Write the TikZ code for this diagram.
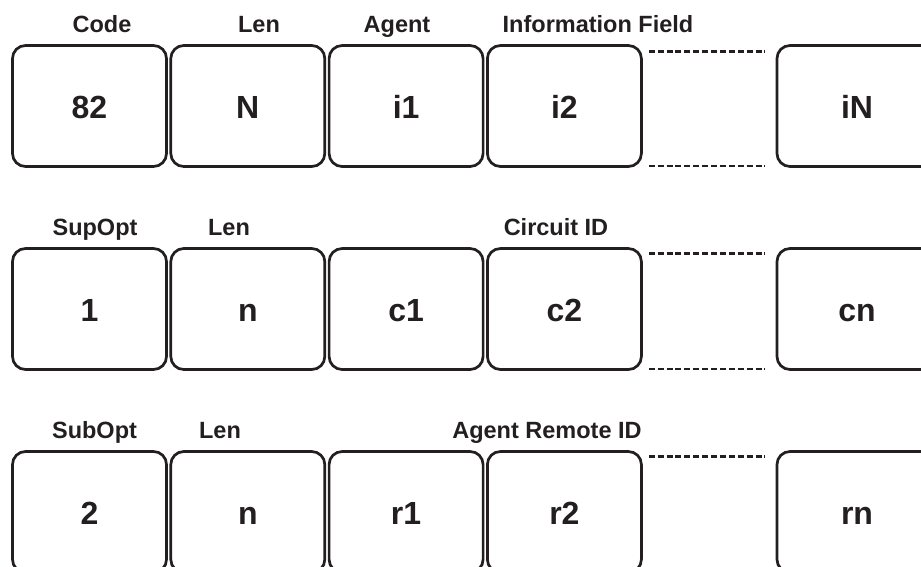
\documentclass[tikz,border=0pt]{standalone}
\usepackage{fontspec}
\setmainfont{Liberation Sans}
\usepackage{xcolor}
\usepackage{tikz}
\usetikzlibrary{positioning}
\definecolor{inkcolor}{HTML}{231F20}

\begin{document}
\begin{tikzpicture}[x=1pt, y=-1pt,
    field/.style={rectangle, draw=inkcolor, line width=2.7pt,
                  rounded corners=13pt,
                  minimum width=154pt, minimum height=121pt,
                  inner sep=0pt, text height=24pt, text depth=0pt,
                  text=inkcolor,
                  font=\fontsize{32}{38}\selectfont\bfseries},
    lastfield/.style={field, minimum width=160pt},
    fieldname/.style={anchor=base, inner sep=0pt, text=inkcolor,
                      font=\fontsize{23.5}{28}\selectfont\bfseries},
    gapline/.style={draw=inkcolor, line width=2.7pt,
                    dash pattern=on 6pt off 2.9pt}
]
\useasboundingbox (0,0) rectangle (921,566);
\clip (0,0) rectangle (921,566);

% Option 82
\node[field] (code) at (89.5,106) {82};
\node[field, right=1.6pt of code] (len) {N};
\node[field, right=1.6pt of len] (agent) {i1};
\node[field, right=1.6pt of agent] (info) {i2};
\node[lastfield] (infoN) at (857,106) {iN};
\node[fieldname] (codelbl) at (102,32) {Code};
\node[fieldname] (lenlbl) at (259,32) {Len};
\node[fieldname] (agentlbl) at (397,32) {Agent};
\node[fieldname] (infolbl) at (598,32) {Information Field};
\draw[gapline] ([xshift=6pt,yshift=-7pt]info.north east) -- ([xshift=-11pt,yshift=-7pt]infoN.north west);
\draw[gapline] ([xshift=6pt,yshift=2pt]info.south east) -- ([xshift=-11pt,yshift=2pt]infoN.south west);

% Circuit ID sub-option
\node[field] (supopt) at (89.5,309) {1};
\node[field, right=1.6pt of supopt] (suplen) {n};
\node[field, right=1.6pt of suplen] (circ) {c1};
\node[field, right=1.6pt of circ] (circb) {c2};
\node[lastfield] (circN) at (857,309) {cn};
\node[fieldname] (supoptlbl) at (95,235) {SupOpt};
\node[fieldname] (suplenlbl) at (229,235) {Len};
\node[fieldname] (circlbl) at (556,235) {Circuit ID};
\draw[gapline] ([xshift=6pt,yshift=-6pt]circb.north east) -- ([xshift=-11pt,yshift=-6pt]circN.north west);
\draw[gapline] ([xshift=6pt,yshift=2pt]circb.south east) -- ([xshift=-11pt,yshift=2pt]circN.south west);

% Agent Remote ID sub-option
\node[field] (subopt) at (89.5,512) {2};
\node[field, right=1.6pt of subopt] (sublen) {n};
\node[field, right=1.6pt of sublen] (remote) {r1};
\node[field, right=1.6pt of remote] (remoteb) {r2};
\node[lastfield] (remoteN) at (857,512) {rn};
\node[fieldname] (suboptlbl) at (94.5,438) {SubOpt};
\node[fieldname] (sublenlbl) at (220,438) {Len};
\node[fieldname] (remotelbl) at (547,438) {Agent Remote ID};
\draw[gapline] ([xshift=6pt,yshift=-6pt]remoteb.north east) -- ([xshift=-11pt,yshift=-6pt]remoteN.north west);
\draw[gapline] ([xshift=6pt,yshift=2pt]remoteb.south east) -- ([xshift=-11pt,yshift=2pt]remoteN.south west);
\end{tikzpicture}
\end{document}
